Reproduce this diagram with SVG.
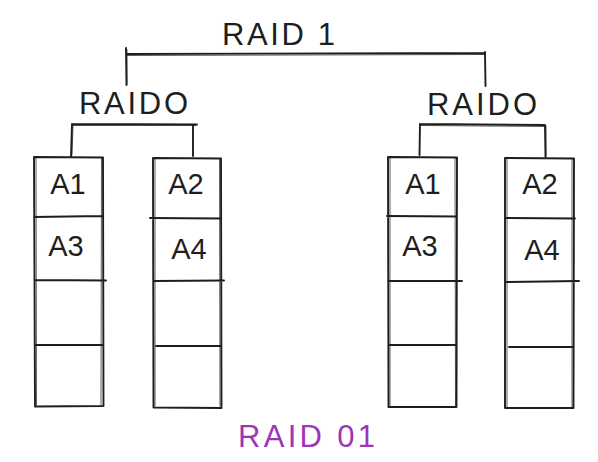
<svg xmlns="http://www.w3.org/2000/svg" width="598" height="462" viewBox="0 0 598 462">
<style>
.ln{fill:none;stroke:#1e1e1e;stroke-width:1.9;stroke-linecap:round;stroke-linejoin:round}
.ln2{fill:none;stroke:#1e1e1e;stroke-width:0.9;stroke-linecap:round;opacity:0.8}
.t{font-family:"Liberation Sans","DejaVu Sans",sans-serif;fill:#1e1e1e}
.lbl{font-size:31px}
.cell{font-size:29px;text-anchor:middle}
.ttl{font-size:31px;fill:#9c36b5}
</style>
<rect width="598" height="462" fill="#ffffff"/>
<g id="connectors">
<path class="ln" d="M126 48 L126.5 85 M126 54 L485 53 M485 52 L485.5 86"/>
<path class="ln2" d="M127 50 L127 84 M127 55.5 L484 54.5"/>
<path class="ln" d="M72 124 L197 124.5 M72 124 L71 157 M193 124.5 L193 156"/>
<path class="ln2" d="M73 125.5 L196 125.5 M73 126 L72 155"/>
<path class="ln" d="M420 124 L545 125 M420 124 L419.5 155 M545 125 L545.5 157"/>
<path class="ln2" d="M421 125.5 L544 126.5 M546 126 L546 156"/>
</g>
<g id="raid1">
<text class="t lbl" x="222" y="45" textLength="113" lengthAdjust="spacing">RAID 1</text>
</g>
<g id="raid0-left">
<text class="t lbl" x="79" y="114" textLength="109" lengthAdjust="spacing">RAIDO</text>
</g>
<g id="raid0-right">
<text class="t lbl" x="427" y="115" textLength="110" lengthAdjust="spacing">RAIDO</text>
</g>
<g id="disk1">
<path class="ln" d="M34 157 L103 157.5 L103.5 406 L35 406.5 Z M34 217 L103 216 M35 280 L106 280.5 M36 345 L102 345"/>
<path class="ln2" d="M36 158 L36.5 405 M101.5 158 L101 405"/>
<text class="t cell" x="68" y="194">A1</text>
<text class="t cell" x="66" y="256">A3</text>
</g>
<g id="disk2">
<path class="ln" d="M153 158 L221 158.5 L221.5 408 L153.5 407.5 Z M150 218 L221 218.5 M154 281 L224 280.5 M156 346 L220 346"/>
<path class="ln2" d="M155 159 L155 406 M219.5 159 L220 406"/>
<text class="t cell" x="186" y="194">A2</text>
<text class="t cell" x="189" y="259">A4</text>
</g>
<g id="disk3">
<path class="ln" d="M388 157 L457 157.5 L456.5 407 L388.5 407 Z M387 216 L457 216.5 M388 281 L462 281 M390 345 L455 345"/>
<path class="ln2" d="M390 158 L390 406 M455 158 L455.5 406"/>
<text class="t cell" x="423" y="194">A1</text>
<text class="t cell" x="420" y="256">A3</text>
</g>
<g id="disk4">
<path class="ln" d="M505 158 L574 158.5 L573.5 408 L505 408 Z M505 218 L575 218.5 M506 282 L579 281 M509 347 L573 347"/>
<path class="ln2" d="M507 159 L507 407 M572 159 L572 407"/>
<text class="t cell" x="540" y="194">A2</text>
<text class="t cell" x="542" y="260">A4</text>
</g>
<g id="title">
<text class="t ttl" x="238" y="447" textLength="137" lengthAdjust="spacing">RAID 01</text>
</g>
</svg>
